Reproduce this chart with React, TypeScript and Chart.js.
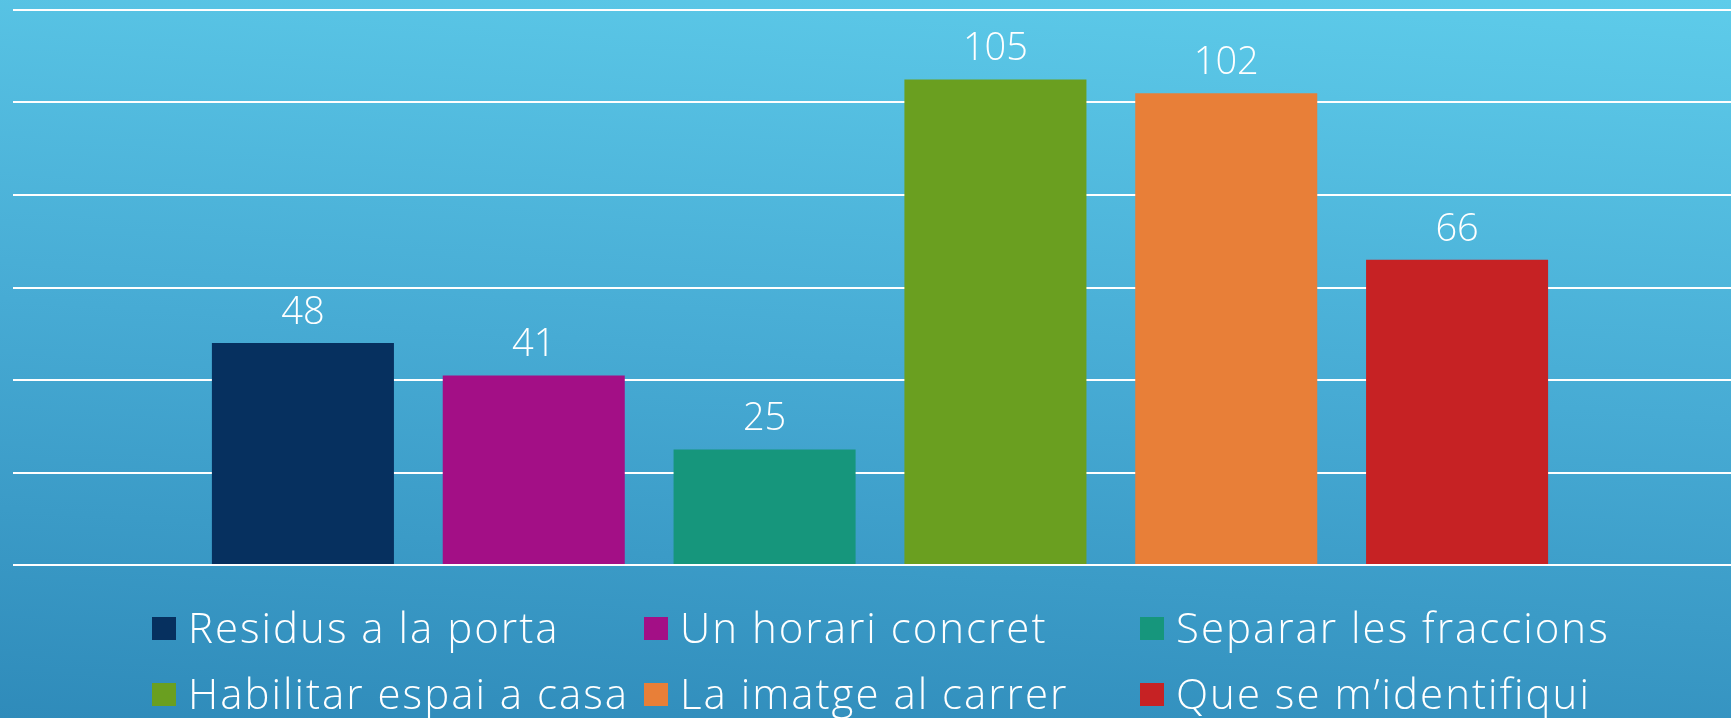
import React, { useEffect, useRef } from "react";
import { Chart, registerables } from "chart.js";

Chart.register(...registerables);

// ---- data ----
const categories: string[] = [""];
const seriesNames: string[] = [
  "Residus a la porta",
  "Un horari concret",
  "Separar les fraccions",
  "Habilitar espai a casa",
  "La imatge al carrer",
  "Que se m’identifiqui",
];
const seriesValues: number[] = [48, 41, 25, 105, 102, 66];
const seriesColors: string[] = ["#06305F", "#A30F86", "#16967C", "#6A9F20", "#E87F38", "#C62224"];
const yMin = 0;
const yMax = 120;
const yStep = 20;

// ---- layout / style ----
const CANVAS_W = 1747;
const CANVAS_H = 718;
const FONT_FAMILY = '"Open Sans", "Noto Sans", sans-serif';
const LABEL_FONT = `300 38px ${FONT_FAMILY}`;
const LEGEND_FONT = `300 42px ${FONT_FAMILY}`;
const LEGEND_COLS_X = [152, 644, 1140];
const LEGEND_ROWS_Y = [628.5, 694.5];
const LEGEND_BOX_W = 24;
const LEGEND_BOX_H = 23;
const LEGEND_TEXT_GAP = 12;

const valueLabelPlugin = {
  id: "valueLabels",
  afterDatasetsDraw(chart: any) {
    const ctx = chart.ctx;
    ctx.save();
    ctx.font = LABEL_FONT;
    ctx.fillStyle = "#FFFFFF";
    ctx.textAlign = "center";
    ctx.textBaseline = "alphabetic";
    chart.data.datasets.forEach((ds: any, i: number) => {
      const meta = chart.getDatasetMeta(i);
      meta.data.forEach((bar: any, j: number) => {
        ctx.fillText(String(ds.data[j]), bar.x, bar.y - 19);
      });
    });
    ctx.restore();
  },
};

const gridLegendPlugin = {
  id: "gridLegend",
  afterDraw(chart: any) {
    const ctx = chart.ctx;
    ctx.save();
    ctx.font = LEGEND_FONT;
    (ctx as any).letterSpacing = "2px";
    ctx.textAlign = "left";
    ctx.textBaseline = "alphabetic";
    chart.data.datasets.forEach((ds: any, i: number) => {
      const col = i % LEGEND_COLS_X.length;
      const row = Math.floor(i / LEGEND_COLS_X.length);
      const x = LEGEND_COLS_X[col];
      const cy = LEGEND_ROWS_Y[row];
      ctx.fillStyle = ds.backgroundColor;
      ctx.fillRect(x, cy - LEGEND_BOX_H / 2, LEGEND_BOX_W, LEGEND_BOX_H);
      ctx.fillStyle = "#FFFFFF";
      ctx.fillText(ds.label, x + LEGEND_BOX_W + LEGEND_TEXT_GAP, cy + 14);
    });
    ctx.restore();
  },
};

export default function App() {
  const canvasRef = useRef<HTMLCanvasElement | null>(null);

  useEffect(() => {
    if (!canvasRef.current) return;
    const chart = new Chart(canvasRef.current, {
      type: "bar",
      data: {
        labels: categories,
        datasets: seriesNames.map((name, i) => ({
          label: name,
          data: [seriesValues[i]],
          backgroundColor: seriesColors[i],
          borderWidth: 0,
        })),
      },
      options: {
        responsive: false,
        animation: false,
        devicePixelRatio: 1,
        categoryPercentage: 1385 / 1734,
        barPercentage: 182 / 230.8,
        layout: { padding: { left: 13, right: 0, top: 10, bottom: 153 } },
        plugins: {
          legend: { display: false },
          tooltip: { enabled: false },
          title: { display: false },
        },
        scales: {
          x: { display: false },
          y: {
            min: yMin,
            max: yMax,
            ticks: { display: false, stepSize: yStep },
            grid: { color: "#FFFFFF", lineWidth: 2, drawTicks: false },
            border: { display: false },
          },
        },
      } as any,
      plugins: [valueLabelPlugin, gridLegendPlugin],
    });
    return () => chart.destroy();
  }, []);

  return (
    <div
      style={{
        position: "absolute",
        left: 0,
        top: 0,
        width: 1731,
        height: 718,
        overflow: "hidden",
        background: "linear-gradient(184deg, #5ECCEA 0%, #47ABD4 50%, #2F8BBA 100%)",
      }}
    >
      <canvas
        ref={canvasRef}
        width={CANVAS_W}
        height={CANVAS_H}
        style={{ display: "block", width: CANVAS_W, height: CANVAS_H }}
      />
    </div>
  );
}
